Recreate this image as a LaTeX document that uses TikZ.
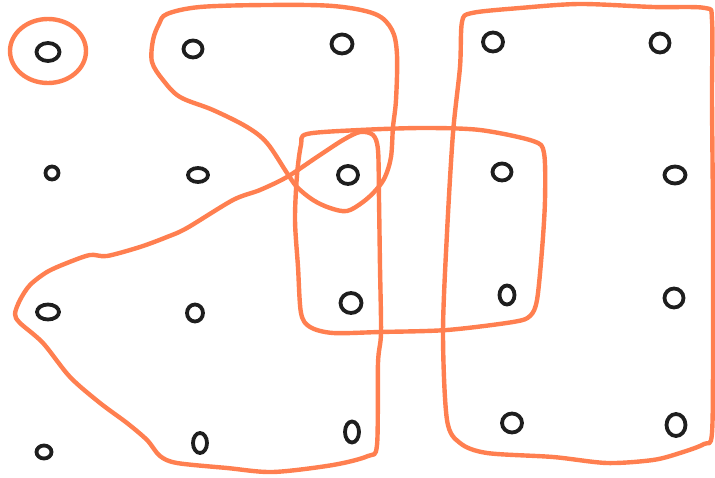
\documentclass[tikz,border=0pt]{standalone}
\usetikzlibrary{shapes.geometric}
\definecolor{loopc}{RGB}{255,127,80}
\definecolor{inkc}{RGB}{30,30,30}
\tikzset{
  dot/.style={ellipse, draw=inkc, line width=3.8pt, inner sep=0pt},
  loopline/.style={draw=loopc, line width=4.4pt, line cap=round, line join=round},
}
\newcommand{\dotnode}[5]{\node[dot, minimum width=#4pt, minimum height=#5pt] (#1) at (#2,#3) {};}
\begin{document}
\begin{tikzpicture}[x=1pt,y=-1pt]
\useasboundingbox (0,0) rectangle (715,478);
% grid of nodes
\dotnode{a1}{48}{52}{23}{18}
\dotnode{a2}{193}{49}{19}{17}
\dotnode{a3}{342}{44}{21}{19}
\dotnode{a4}{493}{42}{20}{19}
\dotnode{a5}{660}{43}{19}{19}
\dotnode{b1}{52}{173}{13}{13}
\dotnode{b2}{198}{175}{20}{14}
\dotnode{b3}{348}{175}{20}{18}
\dotnode{b4}{502}{172}{19}{17}
\dotnode{b5}{675}{175}{21}{17}
\dotnode{c1}{48}{312}{22}{15}
\dotnode{c2}{195}{313}{16}{17}
\dotnode{c3}{351}{303}{21}{20}
\dotnode{c4}{507}{295}{15}{19}
\dotnode{c5}{674}{298}{19}{19}
\dotnode{d1}{44}{452}{15}{13}
\dotnode{d2}{200}{443}{14}{20}
\dotnode{d3}{352}{432}{14}{21}
\dotnode{d4}{512}{423}{20}{19}
\dotnode{d5}{676}{425}{19}{22}
% loop around a1
\draw[loopline] (48,51) ellipse [x radius=38, y radius=32];
% upper blob
\draw[loopline] plot[smooth cycle, tension=0.55] coordinates {
 (167,14) (200,7) (267,5) (333,6) (375,14) (392,30) (397,55) (396,100)
 (393,127) (391,157) (385,177) (376,190) (363,202) (347,211) (330,208)
 (313,200) (297,187) (287,173) (267,143) (247,127) (213,110) (180,97)
 (163,80) (152,62) (153,40) (159,24)};
% big lower-left shape
\draw[loopline] plot[smooth cycle, tension=0.5] coordinates {
 (360,132) (373,135) (378,150) (379,200) (380,267) (381,333) (378,363)
 (377,445) (368,456) (333,465) (273,472) (227,468) (177,463) (160,456)
 (147,440) (127,423) (100,403) (70,377) (43,343) (20,323) (15,314)
 (20,300) (30,285) (47,272) (67,263) (90,255) (107,256) (140,247)
 (167,237) (187,228) (233,200) (260,190) (287,177) (317,157) (343,140)};
% middle rounded rectangle
\draw[loopline] plot[smooth cycle, tension=0.5] coordinates {
 (307,134) (360,130) (423,128) (480,130) (533,141) (544,153) (545,200)
 (542,250) (537,300) (530,316) (513,322) (447,330) (380,332) (333,333)
 (310,327) (301,313) (298,267) (295,220) (297,175) (301,145)};
% right tall rectangle
\draw[loopline] plot[smooth cycle, tension=0.5] coordinates {
 (462,22) (472,13) (520,8) (580,4) (653,7) (705,8) (712,20) (712,100)
 (713,220) (713,333) (712,433) (704,444) (680,453) (653,460) (607,463)
 (553,457) (487,453) (460,443) (447,420) (443,333) (447,233) (453,133)
 (460,67)};
\end{tikzpicture}
\end{document}
